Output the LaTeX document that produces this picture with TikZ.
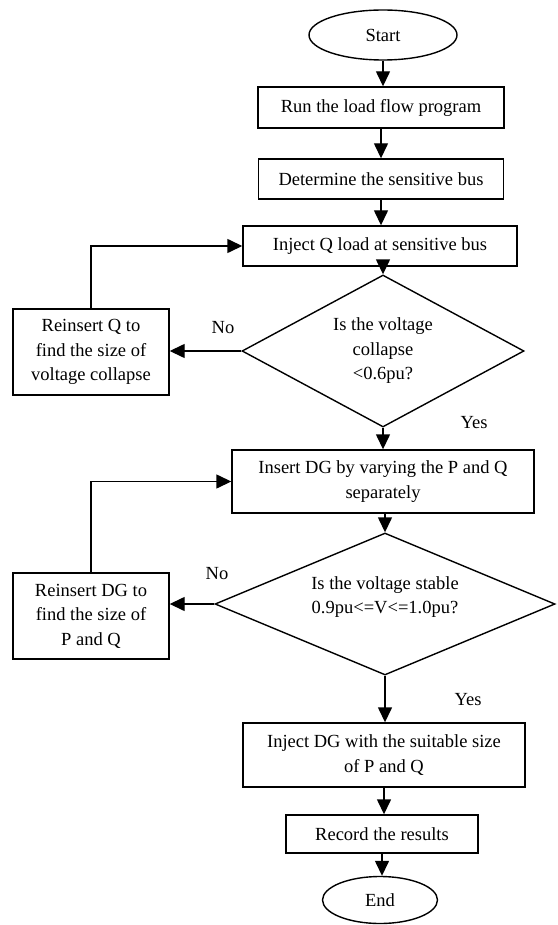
\documentclass[tikz,border=0pt]{standalone}
\usepackage{fontspec}
\setmainfont{Liberation Serif}
\usetikzlibrary{shapes.geometric,arrows.meta}
\begin{document}
\begin{tikzpicture}[x=1pt,y=-1pt,
  every node/.style={font=\fontsize{18.5}{24.5}\selectfont, align=center, inner sep=0pt},
  base/.style={draw, line width=1.4pt},
  proc/.style={base, rectangle},
  term/.style={base, ellipse},
  dec/.style={base, diamond},
  arr/.style={line width=1.4pt, -{Triangle[length=15pt,width=14pt]}}
]
\useasboundingbox (0,0) rectangle (557,925);
\node[term, minimum width=148pt, minimum height=50pt] (start) at (383,35) {Start};
\node[proc, minimum width=246pt, minimum height=41pt] (b1) at (381,107.5) {Run the load flow program};
\node[proc, minimum width=245pt, minimum height=40pt] (b2) at (381,179) {Determine the sensitive bus};
\node[proc, minimum width=274pt, minimum height=40pt] (b3) at (380,246) {Inject Q load at sensitive bus};
\node[dec, shape aspect=1.855, minimum width=282pt, minimum height=152pt] (d1) at (383,351) {Is the voltage\\collapse\\<0.6pu?};
\node[proc, minimum width=156pt, minimum height=86pt] (rq) at (91,352) {Reinsert Q to\\find the size of\\voltage collapse};
\node[proc, minimum width=302pt, minimum height=63pt] (b4) at (383,481.5) {Insert DG by varying the P and Q\\separately};
\node[dec, shape aspect=2.39, minimum width=340pt, minimum height=142pt] (d2) at (385,604) {};
\node (d2t) at (385,597) {Is the voltage stable\\0.9pu<=V<=1.0pu?};
\node[proc, minimum width=156pt, minimum height=86pt] (rdg) at (91,616) {Reinsert DG to\\find the size of\\P and Q};
\node[proc, minimum width=282pt, minimum height=64pt] (b5) at (384,755) {Inject DG with the suitable size\\of P and Q};
\node[proc, minimum width=192pt, minimum height=38pt] (b6) at (382,834) {Record the results};
\node[term, minimum width=115pt, minimum height=47pt] (end) at (380,900) {End};

\node (no1) at (223,328) {No};
\node (yes1) at (474,423) {Yes};
\node (no2) at (217,574) {No};
\node (yes2) at (468,700) {Yes};

\draw[arr] (start.south) -- (start.south |- b1.north);
\draw[arr] (b1.south) -- (b1.south |- b2.north);
\draw[arr] (b2.south) -- (b2.south |- b3.north);
\draw[arr] (d1.north |- b3.south) -- (d1.north);
\draw[arr] (d1.south) -- (d1.south |- b4.north);
\draw[arr] (d2.north |- b4.south) -- (d2.north);
\draw[arr] (d2.south) -- (d2.south |- b5.north);
\draw[arr] (b5.south) -- (b5.south |- b6.north);
\draw[arr] (b6.south) -- (b6.south |- end.north);
\draw[arr] (d1.west) -- (d1.west -| rq.east);
\draw[arr] (rq.north) |- (b3.west);
\draw[arr] (d2.west) -- (d2.west -| rdg.east);
\draw[arr] (rdg.north) |- (b4.west);
\end{tikzpicture}
\end{document}
